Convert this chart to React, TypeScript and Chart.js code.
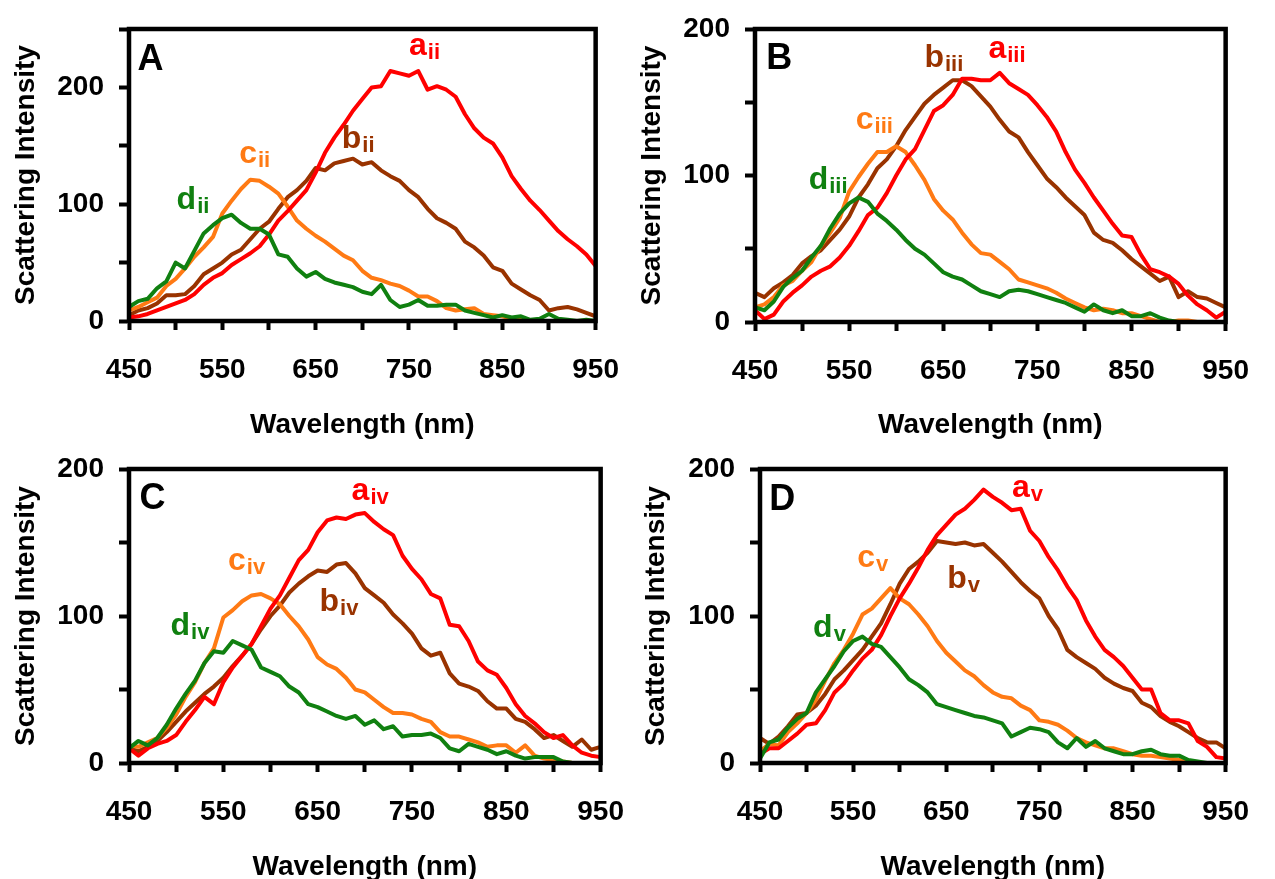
import React, { useEffect, useRef } from 'react';
import { Chart, registerables } from 'chart.js';

Chart.register(...registerables);

const FONT = "'Liberation Sans', Arial, Helvetica, sans-serif";
Chart.defaults.font.family = FONT;

const RED = '#FF0000';
const BROWN = '#993300';
const ORANGE = '#FF7A14';
const GREEN = '#108010';

// Wavelength grid (nm)
const WAVELENGTHS = [450, 460, 470, 480, 490, 500, 510, 520, 530, 540, 550, 560, 570, 580, 590, 600, 610, 620, 630, 640, 650, 660, 670, 680, 690, 700, 710, 720, 730, 740, 750, 760, 770, 780, 790, 800, 810, 820, 830, 840, 850, 860, 870, 880, 890, 900, 910, 920, 930, 940, 950];

// Panel A
const A_RED = [3, 4, 6, 9, 12, 15, 18, 23, 31, 37, 41, 48, 53, 58, 64, 74, 86, 94, 103, 112, 127, 144, 157, 168, 180, 190, 200, 201, 214, 212, 210, 214, 198, 201, 198, 192, 177, 165, 157, 152, 140, 124, 113, 103, 95, 86, 77, 70, 64, 57, 47];
const A_BROWN = [5, 9, 11, 15, 22, 22, 23, 30, 40, 45, 50, 57, 61, 70, 79, 85, 96, 106, 112, 120, 131, 129, 135, 137, 139, 134, 136, 129, 124, 120, 112, 106, 96, 88, 84, 79, 68, 63, 56, 46, 43, 32, 27, 22, 18, 9, 11, 12, 10, 7, 4];
const A_ORANGE = [9, 12, 16, 20, 30, 36, 45, 55, 63, 72, 92, 103, 113, 121, 120, 115, 109, 98, 86, 79, 73, 68, 62, 56, 52, 43, 37, 35, 32, 30, 26, 21, 21, 17, 11, 9, 10, 11, 6, 5, 4, 2, 1, 0, 0, 0, 0, 0, 0, 0, 0];
const A_GREEN = [12, 17, 19, 28, 34, 50, 45, 60, 75, 82, 88, 91, 84, 79, 79, 74, 57, 55, 45, 38, 42, 36, 33, 31, 29, 25, 23, 31, 18, 12, 14, 18, 13, 13, 14, 14, 9, 7, 5, 3, 5, 3, 4, 1, 2, 6, 2, 1, 0, 1, 0];

// Panel B
const B_RED = [8, 2, 5, 14, 20, 25, 31, 35, 38, 44, 52, 62, 73, 78, 88, 100, 111, 118, 131, 144, 148, 155, 166, 166, 165, 165, 170, 163, 159, 155, 148, 140, 130, 116, 104, 95, 85, 76, 67, 59, 58, 46, 36, 34, 31, 26, 18, 12, 8, 3, 7];
const B_BROWN = [20, 17, 23, 27, 32, 40, 45, 49, 56, 63, 72, 85, 94, 105, 111, 120, 131, 140, 149, 155, 160, 165, 165, 161, 154, 147, 138, 130, 126, 116, 107, 98, 92, 85, 79, 73, 61, 56, 54, 49, 43, 38, 33, 28, 31, 17, 21, 17, 16, 13, 10];
const B_ORANGE = [10, 12, 17, 25, 28, 35, 41, 52, 61, 71, 89, 99, 108, 116, 116, 120, 116, 107, 97, 84, 76, 70, 61, 53, 47, 46, 41, 36, 29, 27, 25, 23, 20, 16, 13, 10, 8, 9, 8, 6, 6, 4, 2, 0, 0, 1, 1, 0, 0, 0, 0];
const B_GREEN = [10, 8, 14, 24, 30, 35, 44, 52, 64, 74, 81, 85, 82, 74, 69, 63, 56, 50, 46, 40, 34, 31, 29, 25, 21, 19, 17, 21, 22, 21, 19, 17, 15, 13, 10, 7, 12, 8, 6, 8, 4, 4, 6, 3, 1, 0, 0, 0, 0, 0, 0];

// Panel C
const C_RED = [10, 5, 10, 13, 15, 19, 28, 36, 45, 40, 55, 65, 73, 81, 93, 105, 114, 126, 138, 145, 157, 165, 167, 166, 169, 170, 164, 159, 155, 141, 132, 125, 115, 112, 94, 93, 83, 69, 63, 60, 51, 40, 32, 27, 21, 17, 19, 12, 7, 5, 4];
const C_BROWN = [10, 8, 11, 15, 21, 28, 35, 41, 47, 52, 58, 66, 73, 81, 91, 100, 107, 116, 122, 127, 131, 130, 135, 136, 129, 119, 114, 109, 101, 95, 88, 78, 73, 75, 61, 54, 52, 49, 42, 37, 37, 30, 28, 23, 17, 19, 15, 11, 16, 9, 11];
const C_ORANGE = [12, 11, 14, 17, 24, 33, 45, 55, 68, 78, 99, 104, 110, 114, 115, 112, 108, 100, 93, 84, 72, 67, 64, 58, 50, 48, 43, 38, 34, 34, 33, 30, 28, 21, 18, 18, 16, 14, 11, 12, 12, 7, 12, 5, 3, 2, 1, 0, 0, 0, 0];
const C_GREEN = [10, 15, 12, 17, 26, 37, 47, 56, 68, 76, 75, 83, 80, 77, 65, 62, 59, 52, 48, 40, 38, 35, 32, 30, 32, 26, 29, 23, 25, 18, 19, 19, 20, 17, 10, 8, 13, 11, 9, 6, 8, 5, 3, 4, 4, 4, 1, 0, 0, 0, 0];

// Panel D
const D_RED = [6, 10, 10, 15, 20, 26, 27, 36, 48, 54, 63, 71, 77, 87, 100, 112, 122, 133, 145, 155, 162, 169, 173, 179, 186, 181, 177, 172, 173, 158, 151, 140, 131, 120, 111, 97, 86, 77, 72, 66, 58, 50, 50, 34, 29, 29, 27, 15, 11, 4, 3];
const D_BROWN = [17, 13, 18, 25, 33, 34, 39, 47, 57, 63, 70, 77, 86, 95, 108, 122, 132, 137, 143, 151, 150, 149, 150, 148, 149, 143, 137, 130, 123, 117, 112, 100, 91, 77, 72, 68, 64, 58, 54, 51, 49, 41, 38, 32, 28, 25, 21, 17, 14, 14, 10];
const D_ORANGE = [8, 13, 12, 21, 27, 34, 43, 56, 68, 77, 88, 101, 105, 112, 119, 112, 108, 101, 93, 83, 75, 69, 63, 59, 53, 48, 45, 44, 39, 36, 29, 28, 26, 22, 17, 14, 12, 10, 10, 8, 6, 5, 5, 4, 3, 2, 1, 0, 0, 0, 0];
const D_GREEN = [3, 14, 16, 24, 30, 34, 48, 57, 66, 76, 83, 86, 81, 79, 72, 65, 57, 53, 48, 40, 38, 36, 34, 32, 31, 29, 27, 18, 21, 24, 23, 21, 14, 10, 17, 11, 15, 10, 8, 6, 6, 8, 9, 6, 5, 5, 2, 1, 0, 0, 0];

type Lab = { t: string; sub?: string; color: string; x: number; y: number; size?: number };

type PanelCfg = {
  left: number; top: number; w: number; h: number;
  padTop: number; padRight: number; yW: number; xH: number;
  yMax: number; yTitlePad: number; xTitlePad: number;
  series: { values: number[]; color: string }[];
  labels: Lab[];
};

const PANELS: PanelCfg[] = [
  {
    left: 0, top: 0, w: 645, h: 440, padTop: 24, padRight: 30, yW: 129, xH: 119,
    yMax: 250, yTitlePad: 12, xTitlePad: 1,
    series: [
      { values: A_GREEN, color: GREEN },
      { values: A_RED, color: RED },
      { values: A_ORANGE, color: ORANGE },
      { values: A_BROWN, color: BROWN },
    ],
    labels: [
      { t: 'A', color: '#000', x: 459, y: 215, size: 36 },
      { t: 'a', sub: 'ii', color: RED, x: 750, y: 228 },
      { t: 'b', sub: 'ii', color: BROWN, x: 678, y: 148 },
      { t: 'c', sub: 'ii', color: ORANGE, x: 568, y: 135 },
      { t: 'd', sub: 'ii', color: GREEN, x: 501, y: 96 },
    ],
  },
  {
    left: 637, top: 0, w: 638, h: 440, padTop: 24, padRight: 32, yW: 118, xH: 118,
    yMax: 200, yTitlePad: 1, xTitlePad: 1,
    series: [
      { values: B_GREEN, color: GREEN },
      { values: B_RED, color: RED },
      { values: B_ORANGE, color: ORANGE },
      { values: B_BROWN, color: BROWN },
    ],
    labels: [
      { t: 'B', color: '#000', x: 462, y: 172.5, size: 36 },
      { t: 'a', sub: 'iii', color: RED, x: 698, y: 180.5 },
      { t: 'b', sub: 'iii', color: BROWN, x: 630, y: 174 },
      { t: 'c', sub: 'iii', color: ORANGE, x: 557, y: 132 },
      { t: 'd', sub: 'iii', color: GREEN, x: 507, y: 90.6 },
    ],
  },
  {
    left: 0, top: 440, w: 650, h: 439, padTop: 21, padRight: 30, yW: 129, xH: 116,
    yMax: 200, yTitlePad: 12, xTitlePad: -2,
    series: [
      { values: C_GREEN, color: GREEN },
      { values: C_RED, color: RED },
      { values: C_ORANGE, color: ORANGE },
      { values: C_BROWN, color: BROWN },
    ],
    labels: [
      { t: 'C', color: '#000', x: 461, y: 173, size: 36 },
      { t: 'a', sub: 'iv', color: RED, x: 686, y: 179 },
      { t: 'b', sub: 'iv', color: BROWN, x: 652, y: 103.6 },
      { t: 'c', sub: 'iv', color: ORANGE, x: 555, y: 131 },
      { t: 'd', sub: 'iv', color: GREEN, x: 494, y: 87 },
    ],
  },
  {
    left: 637, top: 440, w: 638, h: 439, padTop: 19, padRight: 27, yW: 123, xH: 116,
    yMax: 200, yTitlePad: 5, xTitlePad: -2,
    series: [
      { values: D_GREEN, color: GREEN },
      { values: D_RED, color: RED },
      { values: D_ORANGE, color: ORANGE },
      { values: D_BROWN, color: BROWN },
    ],
    labels: [
      { t: 'D', color: '#000', x: 460, y: 172, size: 36 },
      { t: 'a', sub: 'v', color: RED, x: 720.5, y: 181 },
      { t: 'b', sub: 'v', color: BROWN, x: 651, y: 119 },
      { t: 'c', sub: 'v', color: ORANGE, x: 554.5, y: 133.5 },
      { t: 'd', sub: 'v', color: GREEN, x: 507, y: 86 },
    ],
  },
];

const framePlugin = {
  id: 'frame',
  afterDatasetsDraw(chart: any, _args: any, opts: any) {
    const { ctx, chartArea } = chart;
    const { left, right, top, bottom } = chartArea;
    const xs = chart.scales.x;
    const ys = chart.scales.y;
    ctx.save();
    ctx.strokeStyle = '#000';
    ctx.lineWidth = 4.5;
    ctx.strokeRect(left, top, right - left, bottom - top);
    const labels: Lab[] = opts.labels || [];
    for (const lab of labels) {
      const px = xs.getPixelForValue(lab.x);
      const py = ys.getPixelForValue(lab.y);
      ctx.fillStyle = lab.color;
      ctx.textAlign = 'left';
      ctx.textBaseline = 'alphabetic';
      ctx.font = `bold ${lab.size || 32}px ${FONT}`;
      ctx.fillText(lab.t, px, py);
      if (lab.sub) {
        const w = ctx.measureText(lab.t).width;
        ctx.font = `bold 22px ${FONT}`;
        ctx.fillText(lab.sub, px + w + 1, py + 4);
      }
    }
    ctx.restore();
  },
};

function Panel({ cfg }: { cfg: PanelCfg }) {
  const ref = useRef<HTMLCanvasElement | null>(null);
  useEffect(() => {
    if (!ref.current) return;
    const chart = new Chart(ref.current, {
      type: 'line',
      data: {
        datasets: cfg.series.map((s) => ({
          data: WAVELENGTHS.map((x, i) => ({ x, y: s.values[i] })),
          borderColor: s.color,
          backgroundColor: s.color,
          borderWidth: 4,
          pointRadius: 0,
          tension: 0,
          fill: false,
          borderJoinStyle: 'round',
        })),
      },
      options: {
        animation: false,
        responsive: false,
        maintainAspectRatio: false,
        events: [],
        layout: { padding: { left: 0, top: cfg.padTop, right: cfg.padRight, bottom: 0 } },
        plugins: {
          legend: { display: false },
          tooltip: { enabled: false },
          // @ts-ignore
          frame: { labels: cfg.labels },
        },
        scales: {
          x: {
            type: 'linear',
            min: 450,
            max: 950,
            ticks: {
              stepSize: 50,
              autoSkip: false,
              maxRotation: 0,
              padding: 26,
              color: '#000',
              font: { size: 28, weight: 'bold', lineHeight: 1 },
              callback: (v: any) => (Number(v) % 100 === 50 ? String(v) : ''),
            },
            grid: { display: true, drawOnChartArea: false, drawTicks: true, tickLength: 9, tickWidth: 4, tickColor: '#000', color: '#000' },
            border: { display: true, color: '#000', width: 4 },
            title: {
              display: true,
              text: 'Wavelength (nm)',
              color: '#000',
              font: { size: 28, weight: 'bold', lineHeight: 1 },
              padding: { top: 0, bottom: cfg.xTitlePad },
            },
            afterFit: (s: any) => { s.height = cfg.xH; },
          },
          y: {
            type: 'linear',
            min: 0,
            max: cfg.yMax,
            ticks: {
              stepSize: 50,
              autoSkip: false,
              padding: 15,
              color: '#000',
              font: { size: 28, weight: 'bold', lineHeight: 1 },
              callback: (v: any) => (Number(v) % 100 === 0 ? String(v) : ''),
            },
            grid: { display: true, drawOnChartArea: false, drawTicks: true, tickLength: 10, tickWidth: 4, tickColor: '#000', color: '#000' },
            border: { display: true, color: '#000', width: 4 },
            title: {
              display: true,
              text: 'Scattering Intensity',
              color: '#000',
              font: { size: 28, weight: 'bold', lineHeight: 1 },
              padding: { top: cfg.yTitlePad, bottom: 0 },
            },
            afterFit: (s: any) => { s.width = cfg.yW; },
          },
        },
      } as any,
      plugins: [framePlugin],
    });
    return () => chart.destroy();
  }, [cfg]);
  return (
    <canvas
      ref={ref}
      width={cfg.w}
      height={cfg.h}
      style={{ position: 'absolute', left: cfg.left, top: cfg.top, width: cfg.w, height: cfg.h }}
    />
  );
}

export default function App() {
  return (
    <div style={{ position: 'absolute', left: 0, top: 0, width: 1275, height: 879, background: '#fff', overflow: 'hidden' }}>
      {PANELS.map((p, i) => (
        <Panel key={i} cfg={p} />
      ))}
    </div>
  );
}
